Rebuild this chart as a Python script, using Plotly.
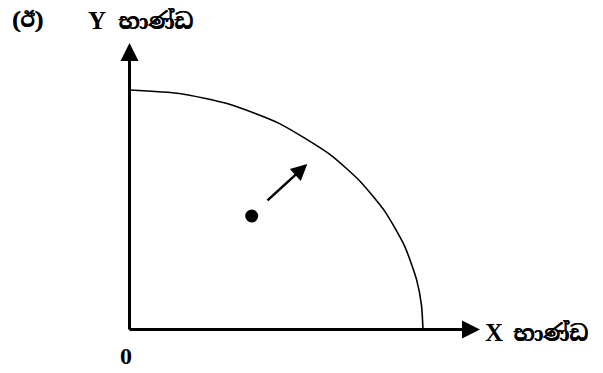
import plotly.graph_objects as go

# Production possibility curve (units = pixels from origin)
curve_x = [0, 50, 100, 150, 200, 230, 255, 275, 287, 292, 293.5]
curve_y = [239.5, 236.0, 225.2, 205.9, 175.3, 148.8, 118.6, 83.7, 50.1, 24.2, 0]

point_x = [122.2]
point_y = [113.5]

move_from = (136.5, 127.8)
move_to = (177.8, 165.5)

y_axis_top = 286.5
x_axis_end = 350.5

panel_label = "(ඊ)"
goods_word = "භාණ්ඩ"
y_letter = "Y"
x_letter = "X"
origin_label = "0"

latin = "Liberation Serif, Times New Roman, serif"
sinhala = "Noto Serif Sinhala, Noto Sans Sinhala, Liberation Serif, serif"

fig = go.Figure()
fig.add_trace(go.Scatter(x=curve_x, y=curve_y, mode="lines",
                         line=dict(color="black", width=1.6, shape="spline", smoothing=0.6),
                         hoverinfo="skip"))
fig.add_trace(go.Scatter(x=point_x, y=point_y, mode="markers",
                         marker=dict(color="black", size=13), hoverinfo="skip"))

# axes with arrowheads
fig.add_annotation(x=0, y=y_axis_top, ax=0, ay=-1.5, xref="x", yref="y", axref="x", ayref="y",
                   showarrow=True, arrowhead=2, arrowsize=1.2, arrowwidth=3, arrowcolor="black", text="")
fig.add_annotation(x=x_axis_end, y=0, ax=-1.5, ay=0, xref="x", yref="y", axref="x", ayref="y",
                   showarrow=True, arrowhead=2, arrowsize=1.2, arrowwidth=3, arrowcolor="black", text="")
fig.add_annotation(x=move_to[0], y=move_to[1], ax=move_from[0], ay=move_from[1],
                   xref="x", yref="y", axref="x", ayref="y",
                   showarrow=True, arrowhead=2, arrowsize=1.3, arrowwidth=2.5, arrowcolor="black", text="")

bold_shadow = "0.7px 0px 0px black"
texts = [
    (panel_label, -102.5, 309.5, sinhala, 20, bold_shadow),
    (y_letter, -33, 309.5, latin, 25, "none"),
    (goods_word, 25.5, 308.5, sinhala, 22, bold_shadow),
    (x_letter, 364, -2.5, latin, 25, "none"),
    (goods_word, 420.5, -3.5, sinhala, 22, bold_shadow),
    (origin_label, -3.5, -26.5, latin, 24, "none"),
]
for txt, x, y, fam, sz, sh in texts:
    fig.add_annotation(x=x, y=y, xref="x", yref="y", text=f"<b>{txt}</b>", showarrow=False,
                       font=dict(family=fam, size=sz, color="black", shadow=sh))

fig.update_layout(width=603, height=373, margin=dict(l=0, r=0, t=0, b=0),
                  paper_bgcolor="white", plot_bgcolor="white", showlegend=False)
# page places the figure 8px in from the top-left corner
fig.update_xaxes(range=[-121.5, 481.5], visible=False)
fig.update_yaxes(range=[-51.5, 321.5], visible=False)
fig.write_html("out.html")
